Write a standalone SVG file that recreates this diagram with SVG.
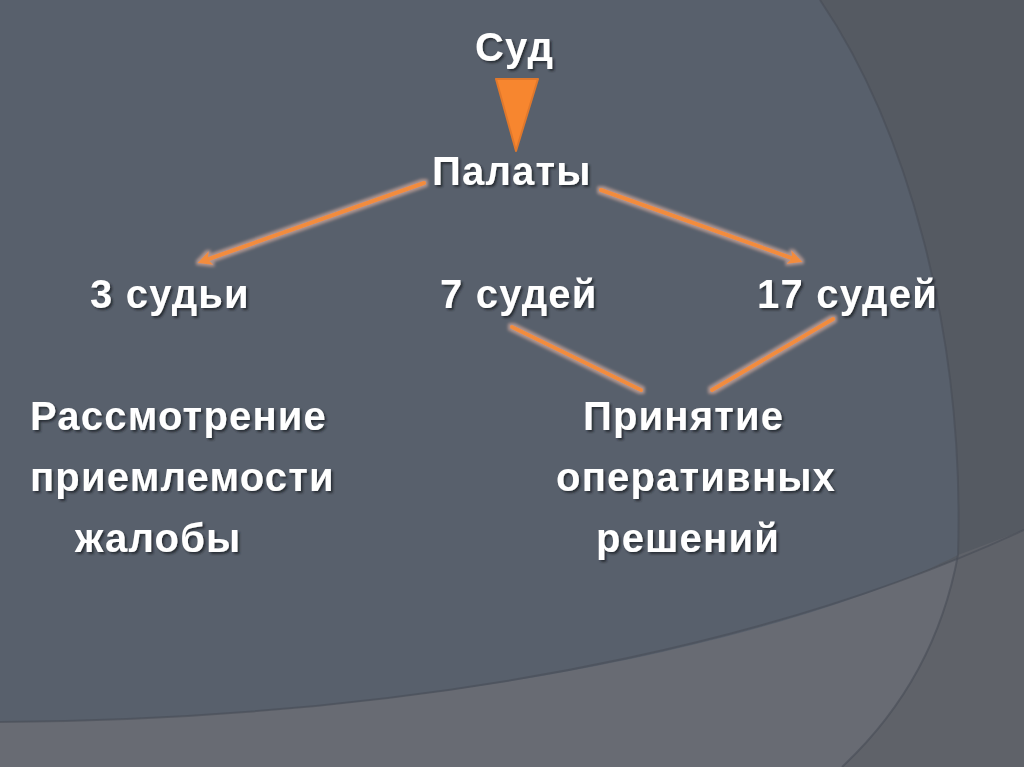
<svg xmlns="http://www.w3.org/2000/svg" width="1024" height="767" viewBox="0 0 1024 767">
<defs>
<style>
.t{font-family:"Liberation Sans",Arial,sans-serif;font-weight:bold;font-size:40px;letter-spacing:1.2px;fill:#ffffff;filter:url(#sh)}
.c{stroke:#f28c3c;stroke-width:4;fill:none;stroke-linecap:round;filter:url(#glow)}
.edge{fill:none;stroke:#474d57;stroke-width:2;opacity:0.6}
</style>
<filter id="sh" x="-10%" y="-20%" width="120%" height="150%">
<feGaussianBlur in="SourceAlpha" stdDeviation="1"/>
<feOffset dx="2" dy="2" result="o"/>
<feFlood flood-color="#1e2228" flood-opacity="0.8"/>
<feComposite in2="o" operator="in"/>
<feMerge><feMergeNode/><feMergeNode in="SourceGraphic"/></feMerge>
</filter>
<filter id="glow" x="-20%" y="-20%" width="140%" height="140%">
<feMorphology in="SourceAlpha" operator="dilate" radius="1.5" result="d"/>
<feGaussianBlur in="d" stdDeviation="1.5" result="b"/>
<feFlood flood-color="#c9a59a" flood-opacity="0.75"/>
<feComposite in2="b" operator="in"/>
<feMerge><feMergeNode/><feMergeNode in="SourceGraphic"/></feMerge>
</filter>
<marker id="ah" viewBox="0 0 10 10" refX="6" refY="5" markerWidth="3.6" markerHeight="3.6" orient="auto" markerUnits="strokeWidth">
<path d="M0,0 L10,5 L0,10 L2.5,5 Z" fill="#f28c3c"/>
</marker>
</defs>
<g id="background">
<rect x="0" y="0" width="1024" height="767" fill="#555a62"/>
<path d="M0,722 C500,718 830,620 1024,530 L1024,767 L0,767 Z" fill="#686b73"/>
<path d="M958,555 Q935,680 842,767 L1024,767 L1024,530 Z" fill="#5f6269"/>
<path d="M0,0 L820,0 C905,125 965,330 958,555 C830,620 500,718 0,722 Z" fill="#58606c"/>
<path class="edge" d="M820,0 C905,125 965,330 958,555 Q935,680 842,767"/>
<path class="edge" d="M0,722 C500,718 830,620 1024,530"/>
</g>
<g id="connectors">
<polygon points="496,79 538,79 516,151" fill="#f7862f" stroke="#e0782c" stroke-width="2" stroke-linejoin="round"/>
<line class="c" x1="424" y1="183" x2="203" y2="261" marker-end="url(#ah)"/>
<line class="c" x1="503" y1="198" x2="503" y2="266" marker-end="url(#ah)"/>
<line class="c" x1="601" y1="190" x2="797" y2="260" marker-end="url(#ah)"/>
<line class="c" x1="158" y1="335" x2="158" y2="390"/>
<line class="c" x1="512" y1="327" x2="641" y2="390"/>
<line class="c" x1="833" y1="319" x2="712" y2="390"/>
</g>
<g id="n-sud"><text class="t" x="475" y="61">Суд</text></g>
<g id="n-palaty"><text class="t" x="432" y="185">Палаты</text></g>
<g id="n-3"><text class="t" x="90" y="308">3 судьи</text></g>
<g id="n-7"><text class="t" x="440" y="308">7 судей</text></g>
<g id="n-17"><text class="t" x="757" y="308">17 судей</text></g>
<g id="n-rassm">
<text class="t" x="30" y="430">Рассмотрение</text>
<text class="t" x="30" y="491">приемлемости</text>
<text class="t" x="75" y="552">жалобы</text>
</g>
<g id="n-prin">
<text class="t" x="583" y="430">Принятие</text>
<text class="t" x="556" y="491">оперативных</text>
<text class="t" x="596" y="552">решений</text>
</g>
</svg>
